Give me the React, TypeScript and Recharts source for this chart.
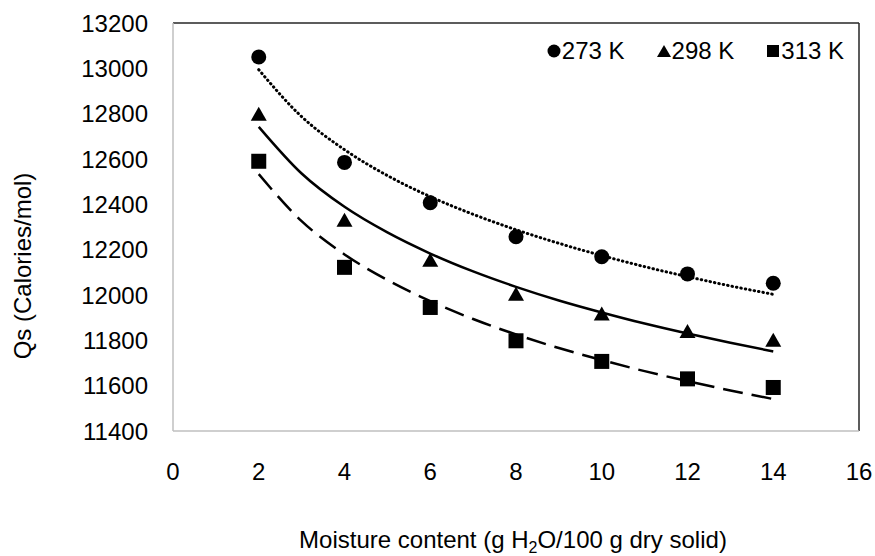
import React from 'react';
import { ComposedChart, Line, Scatter, XAxis, YAxis, Legend, ReferenceLine } from 'recharts';

const FONT = '"Liberation Sans", Arial, sans-serif';

// x axis / y axis ticks
const xTicks = [0, 2, 4, 6, 8, 10, 12, 14, 16];
const yTicks = [11400, 11600, 11800, 12000, 12200, 12400, 12600, 12800, 13000, 13200];

// measured points
const moisture = [2, 4, 6, 8, 10, 12, 14];
const qs273 = [13050, 12585, 12407, 12257, 12169, 12093, 12052];
const qs298 = [12800, 12332, 12155, 12006, 11918, 11841, 11803];
const qs313 = [12590, 12122, 11945, 11798, 11707, 11630, 11592];

// trend lines
const trendX = [2, 3, 4, 5, 6, 7, 8, 9, 10, 11, 12, 13, 14];
const trend273 = [12994, 12787, 12641, 12527, 12434, 12356, 12288, 12228, 12174, 12125, 12081, 12040, 12003];
const trend298 = [12742, 12536, 12389, 12276, 12183, 12104, 12036, 11976, 11923, 11874, 11830, 11789, 11751];
const trend313 = [12533, 12326, 12179, 12066, 11973, 11894, 11826, 11766, 11713, 11664, 11620, 11579, 11541];

const toRows = (xs: number[], ys: number[]) => xs.map((x, i) => ({ x, y: ys[i] }));

const CircleDot = (props: any) => <circle cx={props.cx} cy={props.cy} r={7.5} fill="#000" />;
const TriangleDot = (props: any) => (
  <polygon
    points={`${props.cx},${props.cy - 7} ${props.cx - 8},${props.cy + 7} ${props.cx + 8},${props.cy + 7}`}
    fill="#000"
  />
);
const SquareDot = (props: any) => <rect x={props.cx - 7.5} y={props.cy - 7.5} width={15} height={15} fill="#000" />;

const legendItems = [
  { name: '273 K', icon: 'circle' },
  { name: '298 K', icon: 'triangle' },
  { name: '313 K', icon: 'square' },
];

const LegendIcon = ({ icon }: { icon: string }) => (
  <svg width={14} height={14} style={{ marginRight: 1 }}>
    {icon === 'circle' && <circle cx={7} cy={7} r={6.5} fill="#000" />}
    {icon === 'triangle' && <polygon points="7,1 0,13 14,13" fill="#000" />}
    {icon === 'square' && <rect x={1} y={1} width={12} height={12} fill="#000" />}
  </svg>
);

const LegendContent = () => (
  <div style={{ display: 'flex', alignItems: 'center', fontFamily: FONT, fontSize: 24, color: '#000', whiteSpace: 'nowrap' }}>
    {legendItems.map((item, i) => (
      <span key={item.name} style={{ display: 'flex', alignItems: 'center', marginLeft: i === 0 ? 0 : 32 }}>
        <LegendIcon icon={item.icon} />
        <span>{item.name}</span>
      </span>
    ))}
  </div>
);

const YTitle = (props: any) => {
  const vb = props.viewBox || { x: 0, y: 0, width: 0, height: 0 };
  const x = vb.x + 31;
  const y = vb.y + vb.height / 2 + 39;
  return (
    <text x={x} y={y} transform={`rotate(-90, ${x}, ${y})`} textAnchor="middle" fontSize={24} fontFamily={FONT} fill="#000">
      Qs (Calories/mol)
    </text>
  );
};

const XTitle = (props: any) => {
  const vb = props.viewBox || { x: 0, y: 0, width: 0, height: 0 };
  return (
    <text x={vb.x + vb.width / 2 - 3} y={vb.y + 117} textAnchor="middle" fontSize={24} fontFamily={FONT} fill="#000">
      <tspan>Moisture content (g H</tspan>
      <tspan fontSize={16} dy={5}>2</tspan>
      <tspan dy={-5}>O/100 g dry solid)</tspan>
    </text>
  );
};

export default function App() {
  const tickStyle = { fontSize: 24, fontFamily: FONT, fill: '#000' };
  return (
    <div style={{ position: 'absolute', left: 0, top: 0, background: '#fff' }}>
      <ComposedChart width={875} height={556} margin={{ top: 23, right: 16, bottom: 0, left: 0 }}>
        <XAxis
          type="number"
          dataKey="x"
          domain={[0, 16]}
          ticks={xTicks}
          interval={0}
          height={125}
          tickLine={false}
          tickSize={0}
          tickMargin={32}
          axisLine={{ stroke: '#bfbfbf', strokeWidth: 1.5 }}
          tick={tickStyle}
          label={<XTitle />}
        />
        <YAxis
          type="number"
          domain={[11400, 13200]}
          ticks={yTicks}
          interval={0}
          width={173}
          tickLine={false}
          tickSize={0}
          tickMargin={25}
          axisLine={{ stroke: '#bfbfbf', strokeWidth: 1.5 }}
          tick={tickStyle}
          label={<YTitle />}
        />
        <ReferenceLine y={13200} stroke="#262626" strokeWidth={1.5} />
        <ReferenceLine x={16} stroke="#262626" strokeWidth={1.5} />
        <Legend
          layout="horizontal"
          verticalAlign="middle"
          align="center"
          content={<LegendContent />}
          wrapperStyle={{ top: 37, right: 31, left: 'auto', width: 'auto' }}
        />
        <Line
          data={toRows(trendX, trend273)}
          dataKey="y"
          type="monotone"
          stroke="#000"
          strokeWidth={3}
          strokeDasharray="0.5 4"
          strokeLinecap="round"
          dot={false}
          activeDot={false}
          legendType="none"
          isAnimationActive={false}
        />
        <Line
          data={toRows(trendX, trend298)}
          dataKey="y"
          type="monotone"
          stroke="#000"
          strokeWidth={2.5}
          dot={false}
          activeDot={false}
          legendType="none"
          isAnimationActive={false}
        />
        <Line
          data={toRows(trendX, trend313)}
          dataKey="y"
          type="monotone"
          stroke="#000"
          strokeWidth={2.5}
          strokeDasharray="20 9"
          dot={false}
          activeDot={false}
          legendType="none"
          isAnimationActive={false}
        />
        <Scatter name="273 K" data={toRows(moisture, qs273)} dataKey="y" shape={<CircleDot />} isAnimationActive={false} />
        <Scatter name="298 K" data={toRows(moisture, qs298)} dataKey="y" shape={<TriangleDot />} isAnimationActive={false} />
        <Scatter name="313 K" data={toRows(moisture, qs313)} dataKey="y" shape={<SquareDot />} isAnimationActive={false} />
      </ComposedChart>
    </div>
  );
}
